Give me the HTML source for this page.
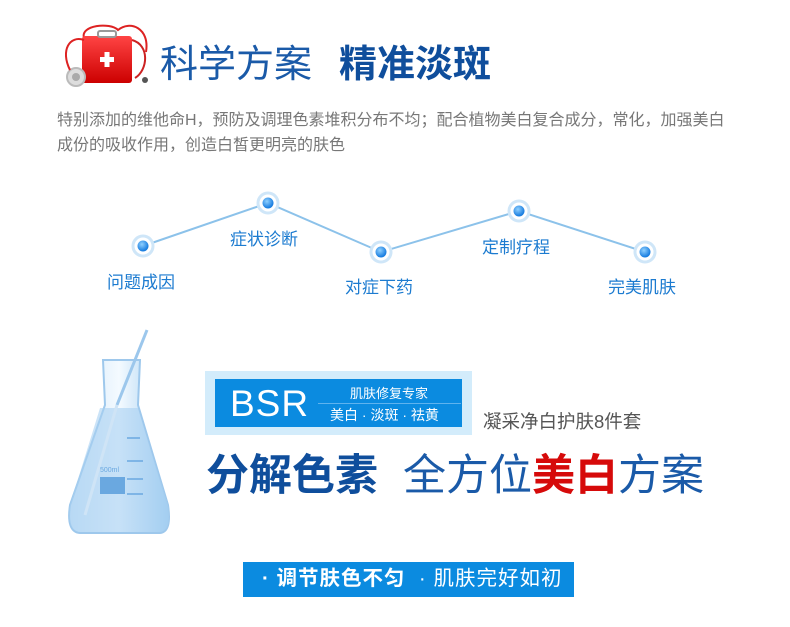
<!DOCTYPE html>
<html><head><meta charset="utf-8"><style>
body{margin:0;width:790px;height:627px;background:#fff;position:relative;overflow:hidden;font-family:"Liberation Sans","Noto Sans CJK SC",sans-serif}
.a{position:absolute;white-space:nowrap}
.lbl{position:absolute;color:#1c7bd0;font-size:17px;white-space:nowrap}
</style></head><body>
<svg class="a" style="left:0;top:0" width="790" height="627">
<defs>
<radialGradient id="d" cx="40%" cy="35%" r="60%"><stop offset="0" stop-color="#8fd0ff"/><stop offset="1" stop-color="#1a7ee0"/></radialGradient>
<linearGradient id="f" x1="0" y1="0" x2="1" y2="0"><stop offset="0" stop-color="#cfe6f8"/><stop offset=".5" stop-color="#f4faff"/><stop offset="1" stop-color="#9ccbf0"/></linearGradient>
<linearGradient id="r" x1="0" y1="0" x2="0" y2="1"><stop offset="0" stop-color="#f44"/><stop offset="1" stop-color="#c00"/></linearGradient>
</defs>
<path d="M84,38 C80,25 110,22 118,30 C130,20 150,28 146,52" fill="none" stroke="#d22" stroke-width="2"/>
<rect x="82" y="36" width="50" height="47" rx="3" fill="url(#r)"/>
<rect x="98" y="31" width="18" height="6" rx="2" fill="none" stroke="#999" stroke-width="2"/>
<rect x="100" y="57" width="14" height="5" fill="#fff"/><rect x="104.5" y="52" width="5" height="15" fill="#fff"/>
<path d="M132,40 C150,45 148,70 135,78" fill="none" stroke="#c22" stroke-width="2"/>
<circle cx="76" cy="77" r="9" fill="#ddd" stroke="#bbb" stroke-width="2"/><circle cx="76" cy="77" r="4" fill="#aaa"/>
<path d="M70,70 C60,50 70,35 84,40" fill="none" stroke="#d22" stroke-width="2"/>
<circle cx="145" cy="80" r="3" fill="#555"/>
<polyline points="143,246 268,203 381,252 519,211 645,252" fill="none" stroke="#8cc2ea" stroke-width="2"/>
<g fill="#fff" stroke="#cfe6f8" stroke-width="3">
<circle cx="143" cy="246" r="10"/><circle cx="268" cy="203" r="10"/><circle cx="381" cy="252" r="10"/><circle cx="519" cy="211" r="10"/><circle cx="645" cy="252" r="10"/></g>
<g fill="url(#d)"><circle cx="143" cy="246" r="5.5"/><circle cx="268" cy="203" r="5.5"/><circle cx="381" cy="252" r="5.5"/><circle cx="519" cy="211" r="5.5"/><circle cx="645" cy="252" r="5.5"/></g>
<path d="M103,360 L140,360 L138,405 L168,505 Q172,532 160,533 L80,533 Q66,532 70,505 L105,405 Z" fill="url(#f)" stroke="#9ec8ec" stroke-width="2"/>
<path d="M100,408 L138,408 L168,505 Q172,531 160,532 L80,532 Q66,531 70,505 Z" fill="#a9d1f2" opacity=".6"/>
<line x1="147" y1="330" x2="117" y2="405" stroke="#9cc7ec" stroke-width="3"/>
<line x1="117" y1="405" x2="85" y2="515" stroke="#cfe4f6" stroke-width="3"/>
<rect x="100" y="477" width="25" height="17" fill="#6aa8e0"/>
<g stroke="#6aa8e0" stroke-width="1.5"><line x1="127" y1="438" x2="140" y2="438"/><line x1="127" y1="461" x2="143" y2="461"/><line x1="127" y1="479" x2="143" y2="479"/><line x1="127" y1="494" x2="143" y2="494"/></g>
<text x="100" y="472" font-size="7" fill="#6aa8e0" font-family="Liberation Sans">500ml</text>
</svg>
<div class="a" style="left:160px;top:42px;font-size:38px;color:#1a5aa8;line-height:46px">科学方案</div>
<div class="a" style="left:339px;top:42px;font-size:38px;color:#0f4e9c;font-weight:bold;line-height:46px">精准淡斑</div>
<div class="a" style="left:57px;top:108px;font-size:16px;color:#777;line-height:25px">特别添加的维他命H，预防及调理色素堆积分布不均；配合植物美白复合成分，常化，加强美白<br>成份的吸收作用，创造白皙更明亮的肤色</div>
<div class="lbl" style="left:107px;top:268px">问题成因</div>
<div class="lbl" style="left:230px;top:225px">症状诊断</div>
<div class="lbl" style="left:345px;top:273px">对症下药</div>
<div class="lbl" style="left:482px;top:233px">定制疗程</div>
<div class="lbl" style="left:608px;top:273px">完美肌肤</div>
<div class="a" style="left:205px;top:371px;width:267px;height:64px;background:#d3ecfb"></div>
<div class="a" style="left:215px;top:379px;width:247px;height:48px;background:#0b8be0"></div>
<div class="a" style="left:230px;top:382px;font-size:37px;color:#fff;line-height:44px;letter-spacing:1px">BSR</div>
<div class="a" style="left:318px;top:403px;width:143px;height:1px;background:#5fb3ee"></div>
<div class="a" style="left:350px;top:383px;font-size:13px;color:#fff">肌肤修复专家</div>
<div class="a" style="left:330px;top:405px;font-size:14px;color:#fff">美白 · 淡斑 · 祛黄</div>
<div class="a" style="left:483px;top:408px;font-size:18.5px;color:#555">凝采净白护肤8件套</div>
<div class="a" style="left:206px;top:450px;font-size:43px;line-height:52px;color:#0f4e9c;font-weight:bold">分解色素</div>
<div class="a" style="left:403px;top:450px;font-size:43px;line-height:52px;color:#1a5aa8">全方位<b style="color:#d60a0a">美白</b>方案</div>
<div class="a" style="left:243px;top:562px;width:331px;height:35px;background:#0b8be0"></div>
<div class="a" style="left:262px;top:565px;font-size:20.5px;line-height:28px;color:#fff;letter-spacing:1px"><b>· 调节肤色不匀</b>&nbsp;&nbsp;· 肌肤完好如初</div>
</body></html>
